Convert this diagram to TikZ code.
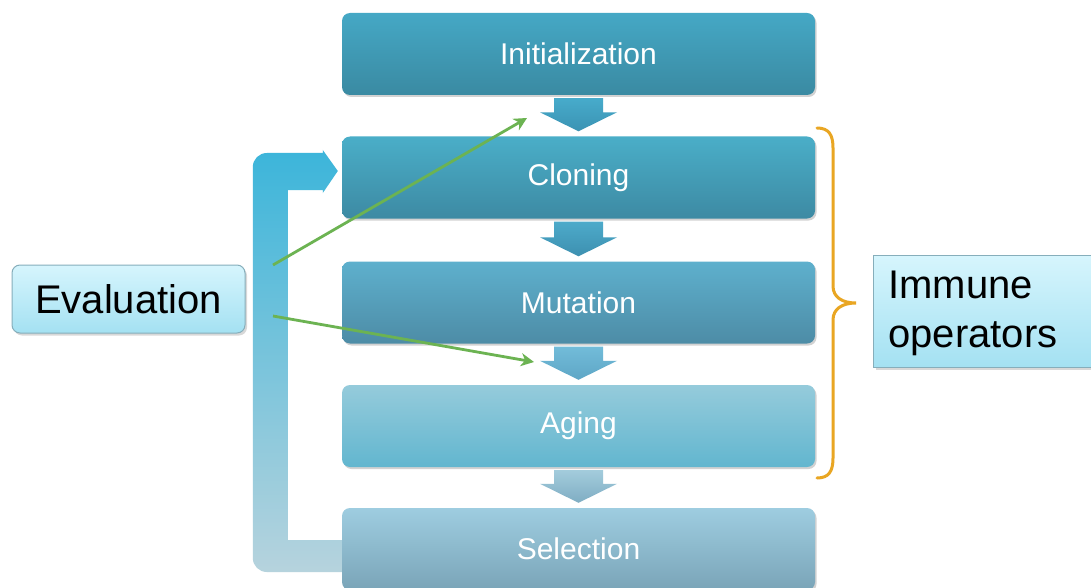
\documentclass[tikz,border=0pt]{standalone}
\usepackage{fontspec}
\setmainfont{Liberation Sans}
\usetikzlibrary{calc,shadows,backgrounds,arrows.meta}

\definecolor{brace}{HTML}{E9A623}
\definecolor{linkgreen}{HTML}{6CB352}
\definecolor{paleborder}{HTML}{86AEBB}
\definecolor{noteTop}{HTML}{D6F5FD}
\definecolor{noteBot}{HTML}{A4E1F2}
% stage box gradients
\definecolor{initT}{HTML}{45A8C5}\definecolor{initB}{HTML}{3A8AA2}
\definecolor{clonT}{HTML}{4AAEC8}\definecolor{clonB}{HTML}{3D8AA3}
\definecolor{mutT}{HTML}{5EB0CD}\definecolor{mutB}{HTML}{4D8CA6}
\definecolor{ageT}{HTML}{95CBDB}\definecolor{ageB}{HTML}{62B6CF}
\definecolor{selT}{HTML}{9ECDE0}\definecolor{selB}{HTML}{7AA4B8}
% block arrow gradients
\definecolor{arAT}{HTML}{47ABCB}\definecolor{arAB}{HTML}{3B93B3}
\definecolor{arBT}{HTML}{4DAACA}\definecolor{arBB}{HTML}{3D90B0}
\definecolor{arCT}{HTML}{72BCD9}\definecolor{arCB}{HTML}{5EA6C6}
\definecolor{arDT}{HTML}{A3CCDC}\definecolor{arDB}{HTML}{7FADC3}
% feedback loop gradient
\definecolor{loopT}{HTML}{3CB5DA}\definecolor{loopB}{HTML}{B6D3DD}

\tikzset{
  stepbox/.style={rounded corners=8pt, minimum width=473pt, minimum height=82pt,
    inner sep=0pt, text=white, font=\fontsize{30}{36}\selectfont,
    drop shadow={shadow xshift=1.5pt, shadow yshift=-2pt, opacity=0.35}},
  notebox/.style={draw=paleborder, line width=1pt, inner sep=0pt,
    top color=noteTop, bottom color=noteBot,
    text=black, font=\fontsize{40}{49}\selectfont,
    drop shadow={shadow xshift=2pt, shadow yshift=-2.5pt, opacity=0.3}},
  greenlink/.style={draw=linkgreen, line width=2.8pt,
    -{Stealth[length=13pt,width=13pt,inset=4pt]}},
}

\begin{document}
\begin{tikzpicture}[x=1pt,y=-1pt]
\useasboundingbox (0,0) rectangle (1091,588);

% the five stages of the algorithm
\node[stepbox, top color=initT, bottom color=initB] (init) at (578.5,54) {Initialization};
\node[stepbox, top color=clonT, bottom color=clonB] (clon) at (578.5,177.5) {Cloning};
\node[stepbox, top color=mutT, bottom color=mutB] (mut) at (578.5,302.5) {Mutation};
\node[stepbox, top color=ageT, bottom color=ageB] (age) at (578.5,426) {Aging};
\node[stepbox, top color=selT, bottom color=selB] (sel) at (578.5,549) {Selection};

% side labels
\node[notebox, rounded corners=8pt, minimum width=233pt, minimum height=68pt]
  (eval) at (128.5,299) {Evaluation};
\node[notebox, minimum width=240pt, minimum height=112pt, text width=210pt, align=left,
      anchor=west] (immune) at (873,311.5) {\raisebox{-4pt}{\strut}Immune\\operators};

% block arrows between consecutive stages
\foreach \a/\b/\c in {init/clon/arA, clon/mut/arB, mut/age/arC, age/sel/arD}{
  \shade[top color=\c T, bottom color=\c B]
    ($(\a.south)+(-24.5,3)$) -- ($(\a.south)+(24.5,3)$) --
    ($(\b.north)+(24.5,-24)$) -- ($(\b.north)+(38.5,-24)$) --
    ($(\b.north)+(0,-5)$) --
    ($(\b.north)+(-38.5,-24)$) -- ($(\b.north)+(-24.5,-24)$) -- cycle;
}

% white page and the feedback loop from selection back to cloning, behind the boxes
\begin{scope}[on background layer]
\fill[white] (0,0) rectangle (1091,588);
\shade[top color=loopT, bottom color=loopB]
  ($(sel.west)+(2,-9)$) -- ($(sel.west)+(-54,-9)$) --
  ($(clon.west)+(-54,12.5)$) -- ($(clon.west)+(-19,12.5)$) --
  ($(clon.west)+(-19,15.5)$) -- ($(clon.west)+(-4,-6.5)$) --
  ($(clon.west)+(-19,-27.5)$) -- ($(clon.west)+(-19,-24.5)$)
  [rounded corners=14pt] -- ($(clon.west)+(-89,-24.5)$) --
  ($(sel.west)+(-89,23)$) [sharp corners] -- ($(sel.west)+(2,23)$) -- cycle;
\end{scope}

% evaluation links
\coordinate (e1) at (273,265);
\coordinate (e2) at (273,316);
\coordinate (t1) at (527,118);
\coordinate (t2) at (534,362);
\draw[greenlink] (e1) -- (t1);
\draw[greenlink] (e2) -- (t2);

% brace grouping the immune operators
\draw[brace, line width=3pt, line cap=round]
  (817,128) .. controls (829,128) and (833,135) .. (833,148) -- (833,286)
  .. controls (833,297) and (842,303) .. (856,303)
  .. controls (842,303) and (833,309) .. (833,320) -- (833,458)
  .. controls (833,471) and (829,478) .. (817,478);
\end{tikzpicture}
\end{document}
